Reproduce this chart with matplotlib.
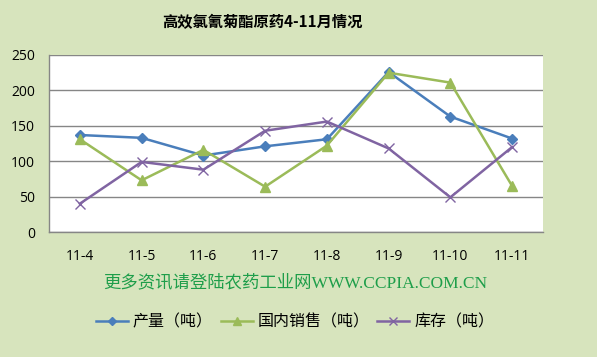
#!/usr/bin/env python3
import matplotlib.pyplot as plt

plt.rcParams['font.family'] = ['Noto Sans CJK SC', 'DejaVu Sans']

months = ['11-4', '11-5', '11-6', '11-7', '11-8', '11-9', '11-10', '11-11']
output = [137, 133, 108, 121, 131, 226, 163, 132]
domestic = [131, 73, 116, 64, 122, 225, 211, 65]
stock = [40, 99, 88, 143, 156, 118, 49, 120]
yticks = [0, 50, 100, 150, 200, 250]

bg = '#D7E4BD'


def main():
    fig = plt.figure(figsize=(5.97, 3.57), dpi=100, facecolor=bg)
    ax = fig.add_axes([49/597, 1 - 232/357, 494/597, 177/357])
    ax.set_facecolor('white')
    x = range(len(months))
    ax.plot(x, output, color='#4A7EBB', lw=1.8, marker='D', ms=5.5, label='产量（吨）')
    ax.plot(x, domestic, color='#9BBB59', lw=1.8, marker='^', ms=7, label='国内销售（吨）')
    ax.plot(x, stock, color='#8064A2', lw=1.8, marker='x', ms=7, mew=1,
            label='库存（吨）')
    ax.set_xlim(-0.5, len(months) - 0.5)
    ax.set_ylim(0, 250)
    ax.set_yticks(yticks)
    ax.set_xticks(list(x))
    ax.set_xticklabels(months)
    for t in ax.get_xticklabels() + ax.get_yticklabels():
        t.set_fontfamily('Open Sans')
        t.set_fontsize(10)
    ax.tick_params(length=0, pad=12)
    ax.tick_params(axis='y', pad=10)
    ax.grid(axis='y', color='#868686', lw=1)
    ax.set_axisbelow(True)
    for s in ['top', 'right']:
        ax.spines[s].set_visible(False)
    for s in ['left', 'bottom']:
        ax.spines[s].set_color('#868686')
        ax.spines[s].set_linewidth(1)

    fig.text(262/597, 1 - 22/357, '高效氯氰菊酯原药4-11月情况', ha='center', va='center',
             fontsize=11, fontweight='bold')
    fig.text(295/597, 1 - 283/357, '更多资讯请登陆农药工业网WWW.CCPIA.COM.CN',
             ha='center', va='center', fontsize=12.5, color='#1E9E4A',
             family=['Liberation Serif', 'Noto Sans CJK SC'])
    fig.legend(loc='center', bbox_to_anchor=(295/597, 1 - 322/357), ncol=3,
               frameon=False, fontsize=11.5, handlelength=2.0, columnspacing=0.5,
               handletextpad=0.3, markerscale=0.75)
    plt.savefig('out.png', dpi=100, facecolor=bg)


if __name__ == '__main__':
    main()
